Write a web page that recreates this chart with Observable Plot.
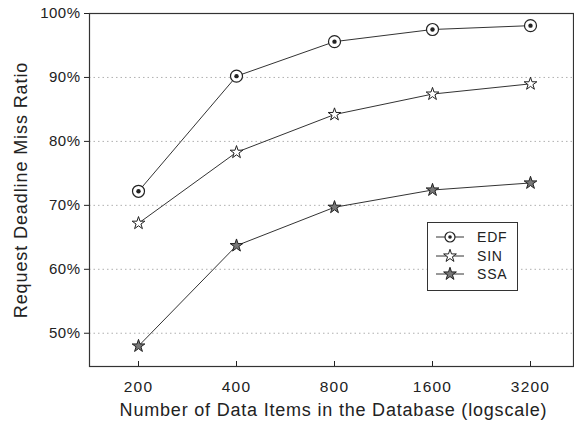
<!DOCTYPE html>
<html>
<head>
<meta charset="utf-8">
<script src="https://cdn.jsdelivr.net/npm/d3@7"></script>
<script src="https://cdn.jsdelivr.net/npm/@observablehq/plot@0.6"></script>
<style>
  body { margin: 0; background: #fff; }
  #wrap { position: relative; width: 574px; height: 426px; font-family: "Liberation Sans", Arial, sans-serif; }
  #legend { position: absolute; left: 427px; top: 222px; width: 89px; height: 67px; border: 1px solid #333; background: #fff; }
  #legend .row { position: absolute; left: 8px; height: 18px; display: flex; align-items: center; font-size: 14px; color: #222; letter-spacing: 0.8px; }
  #legend svg { margin-right: 13px; }
</style>
</head>
<body>
<div id="wrap"></div>
<script>
const sizes = [200, 400, 800, 1600, 3200];
const edf = [72.2, 90.2, 95.6, 97.5, 98.1];
const sin = [67.2, 78.3, 84.2, 87.4, 89.0];
const ssa = [48.0, 63.7, 69.7, 72.4, 73.5];
const seriesNames = ["EDF", "SIN", "SSA"];
const yTicks = [50, 60, 70, 80, 90, 100];

const rows = [];
[edf, sin, ssa].forEach((vals, i) => sizes.forEach((s, j) => rows.push({series: seriesNames[i], size: s, value: vals[j]})));
const pick = name => rows.filter(d => d.series === name);

const W = 574, H = 426, mL = 89, mR = 1, mT = 13, mB = 60;
const pxPerDoubling = 98;
const lo = 200 / Math.SQRT2;
const hi = 200 * Math.pow(2, (W - mR - mL) / pxPerDoubling - 0.5);

const ink = "#222";
const chart = Plot.plot({
  width: W, height: H,
  marginLeft: mL, marginRight: mR, marginTop: mT, marginBottom: mB,
  style: {fontFamily: "'Liberation Sans', Arial, sans-serif", color: ink, background: "#fff"},
  x: {type: "log", domain: [lo, hi]},
  y: {domain: [44.8, 100]},
  marks: [
    Plot.gridY(yTicks, {stroke: "#b0b0b0", strokeOpacity: 1, strokeDasharray: "1.5,3"}),
    Plot.frame({stroke: "#333", strokeWidth: 1.2}),
    Plot.axisY(yTicks, {tickSize: 5, tickPadding: 4, tickFormat: d => d + "%", fontSize: 15, label: null}),
    Plot.axisX(sizes, {tickSize: 5, dy: -5, text: null, label: null}),
    Plot.text(sizes, {x: d => d, text: d => String(d), frameAnchor: "bottom", lineAnchor: "middle", dy: 21, fontSize: 15.5, fill: ink}),
    Plot.text(["Request Deadline Miss Ratio"], {frameAnchor: "left", textAnchor: "middle", lineAnchor: "middle", dx: -68, rotate: -90, fontSize: 18, fill: ink}),
    Plot.text(["Number of Data Items in the Database (logscale)"], {frameAnchor: "bottom", textAnchor: "middle", lineAnchor: "middle", dy: 44, dx: 2, fontSize: 18, fill: ink}),
    Plot.line(pick("EDF"), {x: "size", y: "value", stroke: "#333", strokeWidth: 1}),
    Plot.line(pick("SIN"), {x: "size", y: "value", stroke: "#333", strokeWidth: 1}),
    Plot.line(pick("SSA"), {x: "size", y: "value", stroke: "#333", strokeWidth: 1}),
    Plot.dot(pick("EDF"), {x: "size", y: "value", r: 6, fill: "#fff", stroke: ink, strokeWidth: 1.2}),
    Plot.dot(pick("EDF"), {x: "size", y: "value", r: 2.2, fill: ink, stroke: "none"}),
    Plot.dot(pick("SIN"), {x: "size", y: "value", symbol: "star", r: 4, fill: "#fff", stroke: ink, strokeWidth: 1}),
    Plot.dot(pick("SSA"), {x: "size", y: "value", symbol: "star", r: 4, fill: "#777", stroke: ink, strokeWidth: 1})
  ]
});
// text letter-spacing to match the reference's wide rendering
const svgSel = d3.select(chart);
svgSel.selectAll('g[aria-label="y-axis tick label"]').style("letter-spacing", "0.5px");
const textGroups = svgSel.selectAll('g[aria-label="text"]').nodes();
const spacings = ["1.2px", "0.9px", "0.8px"];
textGroups.forEach((g, i) => d3.select(g).style("letter-spacing", spacings[i] || null));

const wrap = document.getElementById("wrap");
wrap.appendChild(chart);

// Legend overlay
const legend = document.createElement("div");
legend.id = "legend";
const styles = [
  {sym: "circle", fill: "#fff"},
  {sym: "star", fill: "#fff"},
  {sym: "star", fill: "#777"}
];
seriesNames.forEach((name, i) => {
  const row = document.createElement("div");
  row.className = "row";
  row.style.top = (5 + i * 18.5) + "px";
  const svg = d3.create("svg").attr("width", 28).attr("height", 18);
  svg.append("line").attr("x1", 0).attr("x2", 28).attr("y1", 9).attr("y2", 9).attr("stroke", "#333");
  if (styles[i].sym === "circle") {
    svg.append("circle").attr("cx", 14).attr("cy", 9).attr("r", 5).attr("fill", "#fff").attr("stroke", ink).attr("stroke-width", 1.2);
    svg.append("circle").attr("cx", 14).attr("cy", 9).attr("r", 1.8).attr("fill", ink);
  } else {
    svg.append("path").attr("transform", "translate(14,9)")
      .attr("d", d3.symbol(d3.symbolStar, Math.PI * 4 * 4)())
      .attr("fill", styles[i].fill).attr("stroke", ink);
  }
  row.appendChild(svg.node());
  const span = document.createElement("span");
  span.textContent = name;
  row.appendChild(span);
  legend.appendChild(row);
});
wrap.appendChild(legend);
</script>
</body>
</html>
